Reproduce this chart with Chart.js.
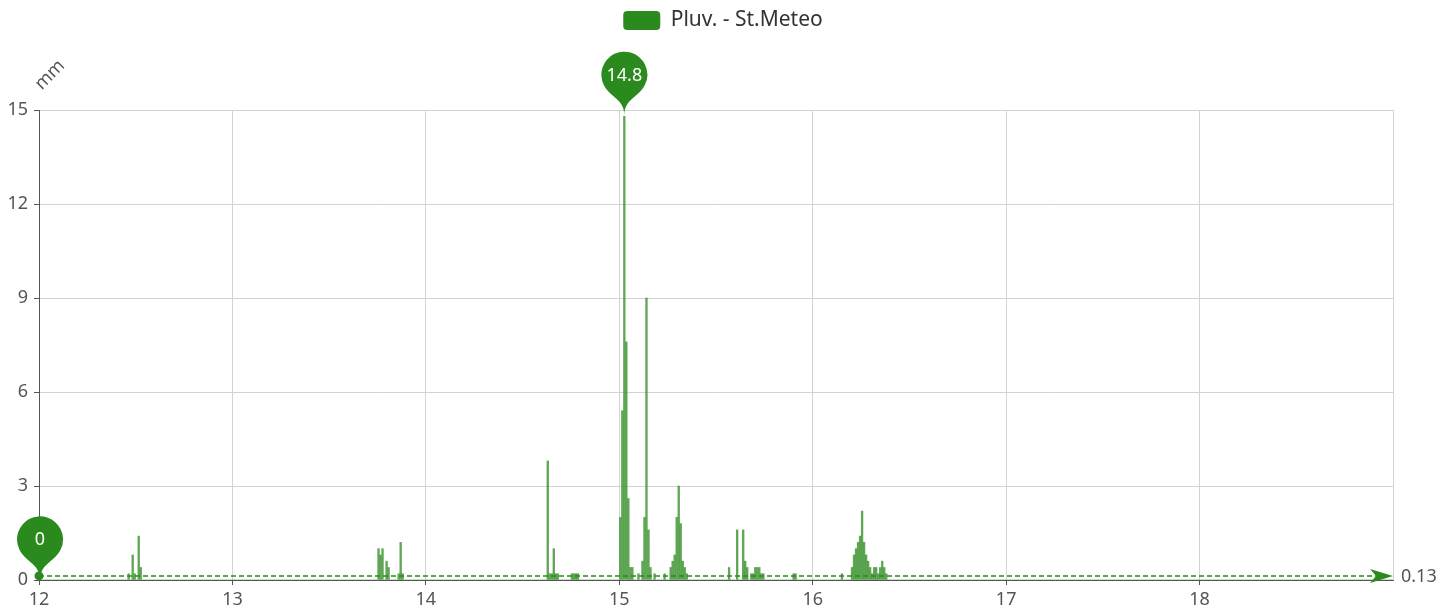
<!DOCTYPE html>
<html>
<head>
<meta charset="utf-8">
<title>Pluv. - St.Meteo</title>
<script src="https://cdn.jsdelivr.net/npm/chart.js@4.4.1/dist/chart.umd.min.js"></script>
<style>
  html, body { margin: 0; padding: 0; background: #fff; }
  #wrap { width: 1454px; height: 612px; }
</style>
</head>
<body>
<div id="wrap"><canvas id="rain" width="1454" height="612"></canvas></div>
<script>
  // ---- data (15-minute rain totals, mm) ----
  var seriesName = 'Pluv. - St.Meteo';
  var axisName = 'mm';
  var firstDay = 12;
  var lastDay = 19;          // axis end (no label)
  var yTicks = [0, 3, 6, 9, 12, 15];
  var averageMm = 0.13;      // value of the dashed average line

  // only the intervals with rain; every other 15 min slot is 0
  var rainTimes = [
    '12 11:00', '12 11:30', '12 11:45', '12 12:15', '12 12:30',
    '13 18:00', '13 18:15', '13 18:30', '13 19:00', '13 19:15', '13 20:30', '13 20:45', '13 21:00',
    '14 15:00', '14 15:15', '14 15:30', '14 15:45', '14 16:00', '14 16:15',
    '14 18:00', '14 18:15', '14 18:30', '14 18:45',
    '15 00:00', '15 00:15', '15 00:30', '15 00:45', '15 01:00', '15 01:15', '15 01:30',
    '15 02:15', '15 02:45', '15 03:00', '15 03:15', '15 03:30', '15 03:45', '15 04:15', '15 05:30',
    '15 06:15', '15 06:30', '15 06:45', '15 07:00', '15 07:15', '15 07:30', '15 07:45', '15 08:00', '15 08:15',
    '15 13:30', '15 14:30', '15 15:15', '15 15:30', '15 15:45', '15 16:15', '15 16:30', '15 16:45',
    '15 17:00', '15 17:15', '15 17:30', '15 17:45', '15 21:30', '15 21:45',
    '16 03:30', '16 04:45', '16 05:00', '16 05:15', '16 05:30', '16 05:45', '16 06:00', '16 06:15',
    '16 06:30', '16 06:45', '16 07:00', '16 07:15', '16 07:30', '16 07:45', '16 08:00', '16 08:15',
    '16 08:30', '16 08:45', '16 09:00'
  ];
  var rainMm = [
    0.2, 0.8, 0.2, 1.4, 0.4,
    1.0, 0.8, 1.0, 0.6, 0.4, 0.2, 1.2, 0.2,
    3.8, 0.2, 0.2, 1.0, 0.2, 0.2,
    0.2, 0.2, 0.2, 0.2,
    2.0, 5.4, 14.8, 7.6, 2.6, 0.4, 0.4,
    0.2, 0.6, 2.0, 9.0, 1.6, 0.4, 0.2, 0.2,
    0.4, 0.6, 0.8, 2.0, 3.0, 1.8, 0.6, 0.4, 0.2,
    0.4, 1.6, 1.6, 0.6, 0.4, 0.2, 0.2, 0.4,
    0.4, 0.4, 0.2, 0.2, 0.2, 0.2,
    0.2, 0.4, 0.8, 1.0, 1.2, 1.4, 2.2, 1.2,
    0.8, 0.6, 0.4, 0.2, 0.4, 0.4, 0.2, 0.4,
    0.6, 0.4, 0.2
  ];

  var GREEN = '#2b8a1e';
  var BAR_FILL = 'rgba(43, 138, 30, 0.75)';
  var AXIS = '#555';
  var GRID = '#d3d3d3';
  var FONT = "'Noto Sans', 'Open Sans', sans-serif";

  Chart.defaults.font.family = FONT;

  // full 15 min series, bar centred in its interval
  var STEP_MIN = 15;
  var byTime = {};
  rainTimes.forEach(function (t, i) { byTime[t] = rainMm[i]; });

  function pad(n) { return (n < 10 ? '0' : '') + n; }

  var series = [];
  for (var d = firstDay; d < lastDay; d++) {
    for (var m = 0; m < 1440; m += STEP_MIN) {
      var key = d + ' ' + pad(Math.floor(m / 60)) + ':' + pad(m % 60);
      series.push({ x: d + (m + STEP_MIN / 2) / 1440, y: byTime[key] || 0 });
    }
  }

  // pin marker, same outline as the echarts 'pin' symbol
  function drawPin(ctx, x, y, w, h, text) {
    var r = w / 2;
    var dy = r * r / (h - r);
    var cy = y - h + r + dy;
    var angle = Math.asin(dy / r);
    var dx = Math.cos(angle) * r;
    var tanX = Math.sin(angle);
    var tanY = Math.cos(angle);
    var cpLen = r * 0.6;
    var cpLen2 = r * 0.7;
    ctx.beginPath();
    ctx.moveTo(x - dx, cy + dy);
    ctx.arc(x, cy, r, Math.PI - angle, Math.PI * 2 + angle);
    ctx.bezierCurveTo(x + dx - tanX * cpLen, cy + dy + tanY * cpLen, x, y - cpLen2, x, y);
    ctx.bezierCurveTo(x, y - cpLen2, x - dx + tanX * cpLen, cy + dy + tanY * cpLen, x - dx, cy + dy);
    ctx.closePath();
    ctx.fillStyle = GREEN;
    ctx.fill();
    ctx.fillStyle = '#fff';
    ctx.font = '18px ' + FONT;
    ctx.textAlign = 'center';
    ctx.textBaseline = 'middle';
    ctx.fillText(text, x, cy + 1);
  }

  // make room under the legend, chart area starts lower
  var legendGap = {
    id: 'legendGap',
    beforeInit: function (chart) {
      var fit = chart.legend.fit;
      chart.legend.fit = function () {
        fit.call(this);
        this.height = 110;
      };
    }
  };

  var markers = {
    id: 'markers',
    afterDraw: function (chart) {
      var ctx = chart.ctx;
      var area = chart.chartArea;
      var xs = chart.scales.x;
      var ys = chart.scales.y;
      var pts = chart.data.datasets[0].data;

      var maxPt = pts[0], minPt = pts[0];
      pts.forEach(function (p) {
        if (p.y > maxPt.y) maxPt = p;
        if (p.y < minPt.y) minPt = p;
      });

      ctx.save();

      // average line
      var ya = ys.getPixelForValue(averageMm);
      ctx.strokeStyle = GREEN;
      ctx.lineWidth = 1.5;
      ctx.setLineDash([5, 3]);
      ctx.beginPath();
      ctx.moveTo(area.left, ya);
      ctx.lineTo(area.right - 16, ya);
      ctx.stroke();
      ctx.setLineDash([]);

      ctx.fillStyle = GREEN;
      ctx.beginPath();
      ctx.arc(area.left, ya, 4.5, 0, Math.PI * 2);
      ctx.fill();

      ctx.beginPath();
      ctx.moveTo(area.right, ya);
      ctx.lineTo(area.right - 23, ya - 7);
      ctx.lineTo(area.right - 17, ya);
      ctx.lineTo(area.right - 23, ya + 7);
      ctx.closePath();
      ctx.fill();

      ctx.fillStyle = AXIS;
      ctx.font = '18px ' + FONT;
      ctx.textAlign = 'left';
      ctx.textBaseline = 'middle';
      ctx.fillText(averageMm.toFixed(2), area.right + 8, ya + 1);

      // max / min pins
      drawPin(ctx, xs.getPixelForValue(maxPt.x), ys.getPixelForValue(maxPt.y) - 1, 46, 74, String(maxPt.y));
      drawPin(ctx, xs.getPixelForValue(minPt.x), ys.getPixelForValue(minPt.y), 46, 74, String(minPt.y));

      // axis name, rotated
      ctx.fillStyle = AXIS;
      ctx.font = '18px ' + FONT;
      ctx.translate(50, 75);
      ctx.rotate(-Math.PI / 4);
      ctx.textAlign = 'center';
      ctx.textBaseline = 'middle';
      ctx.fillText(axisName, 0, 0);

      ctx.restore();
    }
  };

  new Chart(document.getElementById('rain').getContext('2d'), {
    type: 'bar',
    data: {
      datasets: [{
        label: seriesName,
        data: series,
        backgroundColor: BAR_FILL,
        borderWidth: 0,
        barThickness: 1.7
      }]
    },
    options: {
      responsive: false,
      animation: false,
      devicePixelRatio: 1,
      layout: { padding: { left: 0, right: 8, top: 0, bottom: 0 } },
      scales: {
        x: {
          type: 'linear',
          min: firstDay,
          max: lastDay,
          offset: false,
          ticks: {
            stepSize: 1,
            color: AXIS,
            font: { size: 18 },
            padding: 4,
            maxRotation: 0,
            callback: function (v) { return v === lastDay ? '' : v; }
          },
          grid: {
            offset: false,
            color: GRID,
            tickLength: 5,
            tickColor: function (c) {
              return c.tick && c.tick.value === lastDay ? 'rgba(0,0,0,0)' : AXIS;
            }
          },
          border: { color: AXIS },
          afterFit: function (s) { s.height = 32; }
        },
        y: {
          min: yTicks[0],
          max: yTicks[yTicks.length - 1],
          afterBuildTicks: function (s) {
            s.ticks = yTicks.map(function (v) { return { value: v }; });
          },
          ticks: {
            color: AXIS,
            font: { size: 18 },
            padding: 6
          },
          grid: { color: GRID, tickLength: 5, tickColor: AXIS },
          border: { color: AXIS },
          afterFit: function (s) { s.width = 39; }
        },
        y2: {
          position: 'right',
          display: true,
          grid: { display: false },
          border: { display: false },
          ticks: { display: false },
          afterFit: function (s) { s.width = 53; }
        }
      },
      plugins: {
        legend: {
          position: 'top',
          labels: {
            boxWidth: 37,
            boxHeight: 19,
            padding: 10,
            color: '#333',
            font: { size: 21 },
            useBorderRadius: true,
            borderRadius: 4,
            generateLabels: function (chart) {
              var items = Chart.defaults.plugins.legend.labels.generateLabels(chart);
              items.forEach(function (it) {
                it.fillStyle = GREEN;
                it.strokeStyle = GREEN;
                it.lineWidth = 0;
              });
              return items;
            }
          }
        },
        tooltip: { enabled: false }
      }
    },
    plugins: [legendGap, markers]
  });
</script>
</body>
</html>
